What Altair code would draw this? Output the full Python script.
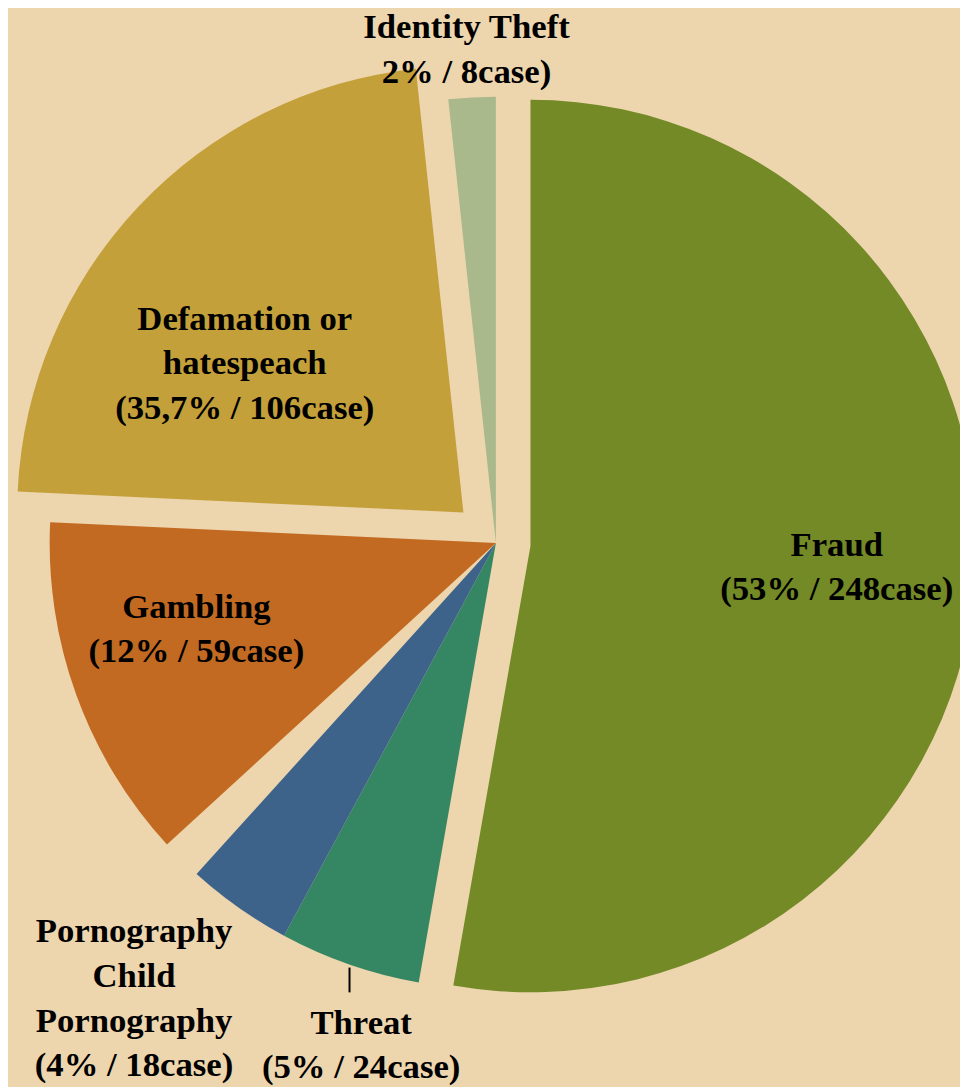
import math
import altair as alt
import pandas as pd

# ---- data ----
categories = ["Fraud", "Threat", "Pornography Child Pornography", "Unlabelled",
              "Gambling", "Defamation or hatespeach", "Identity Theft"]
cases = [248, 24, 18, 7, 59, 106, 8]
labels = ["Fraud\n(53% / 248case)",
          "Threat\n(5% / 24case)",
          "Pornography\nChild\nPornography\n(4% / 18case)",
          "",
          "Gambling\n(12% / 59case)",
          "Defamation or\nhatespeach\n(35,7% / 106case)",
          "Identity Theft\n2% / 8case)"]

# ---- styles ----
colors = ["#738A26", "#348762", "#3D638B", "rgba(0,0,0,0)",
          "#C36A22", "#C4A03A", "#AAB98C"]
explode = {"Fraud": 35, "Defamation or hatespeach": 45}
CX, CY, R = 492, 535, 450
W, H = 960, 1079
FONT = "Liberation Serif"

total = sum(cases)
df = pd.DataFrame({"category": categories, "cases": cases,
                   "label": labels, "order": list(range(len(categories)))})

ex_expr = " : ".join(
    [f"datum.category === '{k}' ? {v}" for k, v in explode.items()]) + " : 0"

base = alt.Chart(df).transform_window(
    end="sum(cases)", sort=[alt.SortField("order")],
    frame=[None, 0]
).transform_calculate(
    start="datum.end - datum.cases",
    mid="datum.end - datum.cases / 2",
).transform_calculate(
    ang=f"datum.mid / {total} * 2 * PI",
).transform_calculate(
    ex=ex_expr,
).transform_calculate(
    cx=f"{CX} + datum.ex * sin(datum.ang)",
    cy=f"{CY} - datum.ex * cos(datum.ang)",
)

theta_scale = alt.Scale(domain=[0, total], range=[0, 2 * math.pi])
xpos = alt.X("cx:Q", scale=None, axis=None)
ypos = alt.Y("cy:Q", scale=None, axis=None)

arcs = base.mark_arc(outerRadius=R, innerRadius=0, strokeWidth=0).encode(
    x=xpos, y=ypos,
    theta=alt.Theta("start:Q", scale=theta_scale, stack=False),
    theta2="end:Q",
    color=alt.Color("category:N", scale=alt.Scale(domain=categories, range=colors),
                    legend=None),
)

leader = base.transform_filter(alt.datum.category == "Threat").transform_calculate(
    lx=f"datum.cx + {R} * sin(datum.ang)",
    ly1=f"datum.cy - {R} * cos(datum.ang) + 3",
    ly2=f"datum.cy - {R} * cos(datum.ang) + 28",
).mark_rule(color="black", strokeWidth=2).encode(
    x=alt.X("lx:Q", scale=None, axis=None),
    y=alt.Y("ly1:Q", scale=None, axis=None),
    y2="ly2:Q",
)

label_style = {
    "Fraud": (310, 0, -28),
    "Threat": (530, 38, -17),
    "Pornography Child Pornography": (558, -43, -64),
    "Gambling": (300, -20, -38),
    "Defamation or hatespeach": (263, -29, -15),
    "Identity Theft": (498, -3, -23),
}

texts = []
for cat, (rad, ddx, ddy) in label_style.items():
    texts.append(
        base.transform_filter(alt.datum.category == cat).mark_text(
            radius=rad, dx=ddx, dy=ddy, font=FONT, fontSize=35, fontWeight="bold",
            lineHeight=45, lineBreak="\n", align="center", baseline="middle",
            color="black",
        ).encode(
            x=xpos, y=ypos,
            theta=alt.Theta("mid:Q", scale=theta_scale, stack=False),
            text="label:N",
        )
    )

chart = alt.layer(arcs, leader, *texts).properties(
    width=W, height=H,
    autosize=alt.AutoSizeParams(type="none"),
    padding=0,
    background="#EDD5AD",
).configure_view(stroke=None)

chart.save("out.html", embed_options={"renderer": "svg", "actions": False})
